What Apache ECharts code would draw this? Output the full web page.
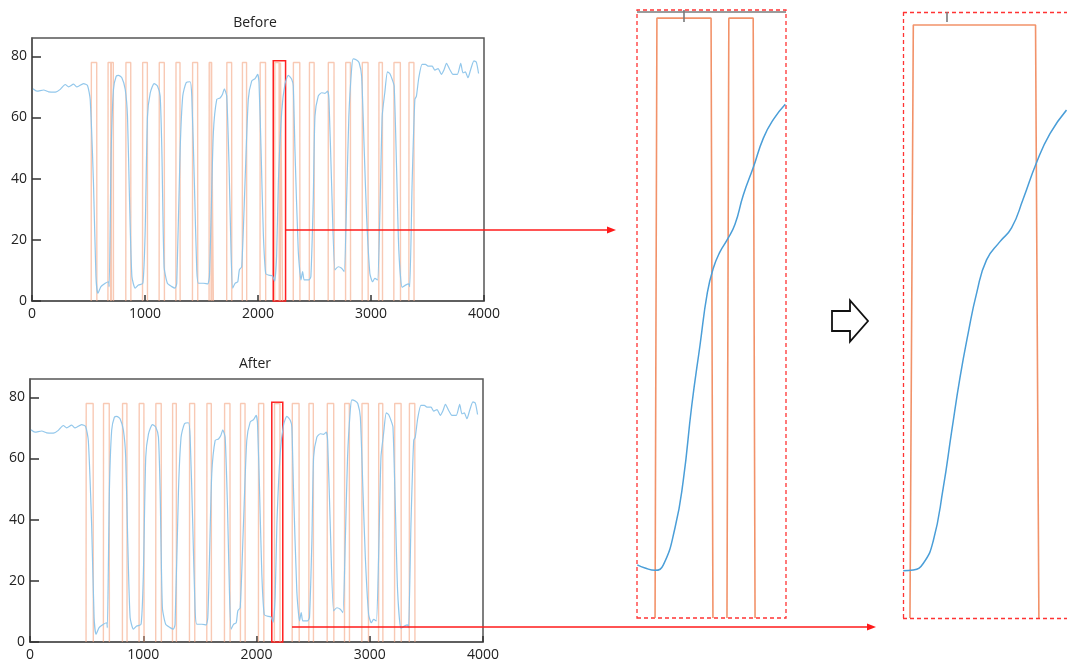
<!DOCTYPE html>
<html><head><meta charset="utf-8">
<script src="https://cdn.jsdelivr.net/npm/echarts@6/dist/echarts.min.js"></script>
<style>html,body{margin:0;padding:0;background:#fff}#c{width:1067px;height:662px}</style>
</head><body><div id="c"></div>
<script>
// ---------- data ----------
const xTickLabels = [0, 1000, 2000, 3000, 4000];
const yTickLabels = [0, 20, 40, 60, 80];
const pulseHigh = 78;
const pulseRamp = 1.3;

// measured signal (same trace in both panels)
const signal = [[9,69.4],[44,68.6],[103,69],[147,68.4],[206,68.3],[250,69.2],[294,70.8],[324,70],[368,70.9],[398,70],[456,71.1],[491,70.5],[515,65.9],[544,38.6],[566,8],[583,2.5],[610,4.7],[648,5.8],[677,6.3],[683,4.7],[701,49.5],[721,69.2],[745,73.5],[766,73.8],[795,73],[825,69.2],[845,60.4],[863,33],[884,8],[913,4.2],[942,5.2],[981,5.8],[1001,22],[1022,60.4],[1046,68],[1081,71.1],[1110,70.3],[1134,67],[1149,49.5],[1169,11.2],[1198,5.8],[1237,4.7],[1266,4.2],[1281,5.8],[1311,49.5],[1334,67],[1364,71.4],[1399,71.7],[1414,67],[1437,38.6],[1458,10.2],[1473,5.8],[1517,5.8],[1555,5.6],[1570,8],[1585,27.6],[1605,55],[1635,65.9],[1664,66.4],[1685,67.5],[1702,69.4],[1723,67],[1744,44],[1761,16.7],[1776,4.2],[1797,5.8],[1821,6.3],[1835,10.2],[1856,11.2],[1885,38.6],[1914,65.9],[1944,71.9],[1974,72.7],[1997,74.1],[2009,71.4],[2027,49.5],[2047,22.2],[2068,9],[2091,8.5],[2127,8.2],[2147,6.5],[2165,15],[2180,38.6],[2210,62],[2239,71],[2268,73.8],[2298,72.5],[2312,70.3],[2327,49.5],[2356,16.7],[2380,6.9],[2395,9.6],[2409,6.9],[2451,6.9],[2468,8],[2489,33],[2504,60.4],[2533,67],[2563,68.1],[2592,67.9],[2616,68.6],[2628,65.9],[2651,38.6],[2681,10.2],[2710,11.2],[2740,10.7],[2763,9.6],[2784,33],[2804,60.4],[2828,75.7],[2842,79.2],[2872,78.8],[2895,77.9],[2917,73.5],[2940,49.5],[2961,27.6],[2990,9],[3014,6.3],[3034,7.4],[3058,6.9],[3078,27.6],[3099,60.4],[3122,68.1],[3146,74.9],[3166,74.4],[3187,72.5],[3205,70.3],[3226,44],[3246,16.7],[3275,4.5],[3305,5.2],[3334,5.6],[3343,4.7],[3364,38.6],[3388,65.9],[3402,67],[3423,73],[3452,77.4],[3482,77.4],[3505,76.8],[3541,76.8],[3565,75.5],[3594,76],[3623,74.1],[3647,75.7],[3668,77.7],[3697,75.7],[3726,74.1],[3764,74.1],[3794,77.7],[3814,74.6],[3835,74.9],[3858,73],[3882,75.7],[3911,78.5],[3932,78.1],[3952,74.4]];

// pulse [start, end] pairs
const pulsesBefore = [[524,574],[672,703],[696,721],[830,875],[978,1022],[1125,1172],[1273,1311],[1420,1467],[1567,1591],[1585,1605],[1723,1768],[1861,1900],[2018,2068],[2147.6,2188],[2197.8,2217.4],[2312,2371],[2454,2498],[2621,2674],[2775,2819],[2922,2975],[3069,3102],[3202,3261],[3335,3381]];
const pulsesAfter = [[495,559],[648,701],[816,857],[963,1007],[1110,1160],[1258,1293],[1408,1455],[1561,1602],[1717,1767],[1858,1900],[2017,2065],[2158,2208],[2315,2377],[2462,2503],[2624,2683],[2777,2821],[2930,2989],[3078,3116],[3219,3278],[3349,3399]];

// zoomed window traces
const detailBeforeCurve = [[2135.2,6.9],[2140.6,6.5],[2147.6,6.2],[2153.4,6.9],[2161.5,11.7],[2167.3,17.9],[2173.2,27.6],[2179,35.5],[2184.1,42.3],[2188.3,45.5],[2192.9,47.6],[2198,49.2],[2203.4,51.2],[2209.2,55],[2216.2,58.6],[2223.2,62.4],[2230.1,64.8],[2238.5,66.8]];
const detailAfterCurve = [[2155.4,6.2],[2159.3,6.3],[2163.2,7.2],[2167,10.1],[2170.9,17.1],[2174.2,24.6],[2177.4,31.6],[2180.6,37.5],[2183.9,42.8],[2187.7,47.1],[2192.9,49.5],[2197.4,51.3],[2201.9,55.1],[2207.1,59.9],[2212.3,63.7],[2218.7,66.8]];

// windows [xStart, xEnd(visible), yTop]
const redBoxBefore = [2135, 2244, 78.6];
const redBoxAfter = [2135, 2232, 78.4];
const detailWinBefore = [2135, 2239, 79.06];
const detailWinAfter = [2155.3, 2218.9, 79.7];
const detailTickBefore = 2167.8;
const detailTickAfter = 2172.2;
const detailTopLineBefore = 78.8;

// ---------- helpers ----------
function pulseLine(pulses) {
  const out = [];
  pulses.forEach(([a, b]) => {
    out.push([a, 0], [a + pulseRamp, pulseHigh], [b - pulseRamp, pulseHigh], [b, 0], [b, '-']);
  });
  return out;
}
const FONT = 'Open Sans';
function mainX(grid) {
  return {
    type: 'value', gridIndex: grid, min: 0, max: 4000, interval: 1000,
    axisLine: { show: true, lineStyle: { color: '#555', width: 1.5 } },
    axisTick: { show: true, inside: true, length: 6, lineStyle: { color: '#333', width: 1.5 } },
    axisLabel: { color: '#222', fontSize: 14, fontFamily: FONT, margin: 6,
      formatter: v => xTickLabels.includes(v) ? String(v) : '' },
    splitLine: { show: false }
  };
}
function mainY(grid) {
  return {
    type: 'value', gridIndex: grid, min: 0, max: 86, interval: 20,
    axisLine: { show: true, lineStyle: { color: '#555', width: 1.5 } },
    axisTick: { show: true, inside: true, length: 9, lineStyle: { color: '#333', width: 1.5 } },
    axisLabel: { color: '#222', fontSize: 14, fontFamily: FONT, margin: 5, showMaxLabel: false,
      formatter: v => yTickLabels.includes(v) ? String(v) : '' },
    splitLine: { show: false }
  };
}
function hiddenAxis(grid, min, max) {
  return { type: 'value', gridIndex: grid, min, max, show: false, splitLine: { show: false } };
}
const mainPulseStyle = { color: '#f4a582', width: 1.4, opacity: 0.6 };
const mainSignalStyle = { color: '#8cc4ea', width: 1.2, opacity: 0.95 };
const detailPulseStyle = { color: '#f07f4f', width: 1.6, opacity: 0.85 };
const detailSignalStyle = { color: '#4a9ed8', width: 1.5 };
const dashedBox = { color: 'rgba(0,0,0,0)', borderColor: '#ff3333', borderWidth: 1.3, borderType: [4, 3] };
const dashedLine = { color: '#ff3333', width: 1.3, type: [4, 3] };

const option = {
  animation: false,
  backgroundColor: '#fff',
  title: [
    { text: 'Before', left: 250, top: 11, textAlign: 'center',
      textStyle: { fontSize: 14, fontWeight: 'normal', color: '#222', fontFamily: FONT } },
    { text: 'After', left: 250, top: 352, textAlign: 'center',
      textStyle: { fontSize: 14, fontWeight: 'normal', color: '#222', fontFamily: FONT } }
  ],
  grid: [
    { left: 32, top: 38, width: 452, height: 263, show: true, borderColor: '#555', borderWidth: 1.5 },
    { left: 30, top: 379, width: 453, height: 265, show: true, borderColor: '#555', borderWidth: 1.5 },
    { left: 637, top: 10, width: 149, height: 608 },
    { left: 903, top: 12, right: 0, height: 606 }
  ],
  xAxis: [
    mainX(0), mainX(1),
    hiddenAxis(2, detailWinBefore[0], detailWinBefore[1]),
    hiddenAxis(3, detailWinAfter[0], detailWinAfter[1])
  ],
  yAxis: [
    mainY(0), mainY(1),
    hiddenAxis(2, 0, detailWinBefore[2]),
    hiddenAxis(3, 0, detailWinAfter[2])
  ],
  series: [
    // Before main
    { type: 'line', xAxisIndex: 0, yAxisIndex: 0, data: pulseLine(pulsesBefore), showSymbol: false,
      connectNulls: false, lineStyle: mainPulseStyle, silent: true,
      markArea: { silent: true, itemStyle: { color: 'rgba(0,0,0,0)', borderColor: '#ff2020', borderWidth: 1.5 },
        data: [[{ coord: [redBoxBefore[0], 0] }, { coord: [redBoxBefore[1], redBoxBefore[2]] }]] } },
    { type: 'line', xAxisIndex: 0, yAxisIndex: 0, data: signal, showSymbol: false, smooth: 0.2,
      lineStyle: mainSignalStyle, silent: true },
    // After main
    { type: 'line', xAxisIndex: 1, yAxisIndex: 1, data: pulseLine(pulsesAfter), showSymbol: false,
      connectNulls: false, lineStyle: mainPulseStyle, silent: true,
      markArea: { silent: true, itemStyle: { color: 'rgba(0,0,0,0)', borderColor: '#ff2020', borderWidth: 1.5 },
        data: [[{ coord: [redBoxAfter[0], 0] }, { coord: [redBoxAfter[1], redBoxAfter[2]] }]] } },
    { type: 'line', xAxisIndex: 1, yAxisIndex: 1, data: signal, showSymbol: false, smooth: 0.2,
      lineStyle: mainSignalStyle, silent: true },
    // Detail before
    { type: 'line', xAxisIndex: 2, yAxisIndex: 2, data: pulseLine(pulsesBefore), showSymbol: false,
      connectNulls: false, lineStyle: detailPulseStyle, silent: true,
      markArea: { silent: true, itemStyle: dashedBox,
        data: [[{ coord: [detailWinBefore[0], 0] }, { coord: [detailWinBefore[1], detailWinBefore[2]] }]] },
      markLine: { silent: true, symbol: 'none', label: { show: false },
        lineStyle: { color: '#7a7a7a', width: 1.6, type: 'solid' },
        data: [
          { yAxis: detailTopLineBefore },
          [{ coord: [detailTickBefore, detailWinBefore[2]] }, { coord: [detailTickBefore, 77.5] }]
        ] } },
    { type: 'line', xAxisIndex: 2, yAxisIndex: 2, data: detailBeforeCurve, showSymbol: false, smooth: true,
      lineStyle: detailSignalStyle, silent: true },
    // Detail after (box continues past the right edge of the picture)
    { type: 'line', xAxisIndex: 3, yAxisIndex: 3, data: pulseLine(pulsesAfter), showSymbol: false,
      connectNulls: false, lineStyle: detailPulseStyle, silent: true,
      markLine: { silent: true, symbol: 'none', label: { show: false },
        data: [
          { yAxis: detailWinAfter[2], lineStyle: dashedLine },
          { yAxis: 0, lineStyle: dashedLine },
          { xAxis: detailWinAfter[0], lineStyle: dashedLine },
          [{ coord: [detailTickAfter, detailWinAfter[2]], lineStyle: { color: '#7a7a7a', width: 1.6, type: 'solid' } },
           { coord: [detailTickAfter, 78.4] }]
        ] } },
    { type: 'line', xAxisIndex: 3, yAxisIndex: 3, data: detailAfterCurve, showSymbol: false, smooth: true,
      lineStyle: detailSignalStyle, silent: true }
  ],
  graphic: [
    // connector arrows
    { type: 'line', silent: true, z: 10, shape: { x1: 285, y1: 230, x2: 609, y2: 230 }, style: { stroke: '#ff1a1a', lineWidth: 1.5 } },
    { type: 'polygon', silent: true, z: 10, shape: { points: [[607, 226.5], [616, 230], [607, 233.5]] }, style: { fill: '#ff1a1a' } },
    { type: 'line', silent: true, z: 10, shape: { x1: 292, y1: 627, x2: 868, y2: 627 }, style: { stroke: '#ff1a1a', lineWidth: 1.5 } },
    { type: 'polygon', silent: true, z: 10, shape: { points: [[867, 623.5], [876, 627], [867, 630.5]] }, style: { fill: '#ff1a1a' } },
    // hollow block arrow
    { type: 'polygon', silent: true, z: 10,
      shape: { points: [[832, 311], [850, 311], [850, 300.5], [868, 321], [850, 341.5], [850, 331], [832, 331]] },
      style: { fill: '#fff', stroke: '#111', lineWidth: 1.8, lineJoin: 'miter' } }
  ]
};
const chart = echarts.init(document.getElementById('c'), null, { renderer: 'canvas' });
chart.setOption(option);
</script></body></html>
